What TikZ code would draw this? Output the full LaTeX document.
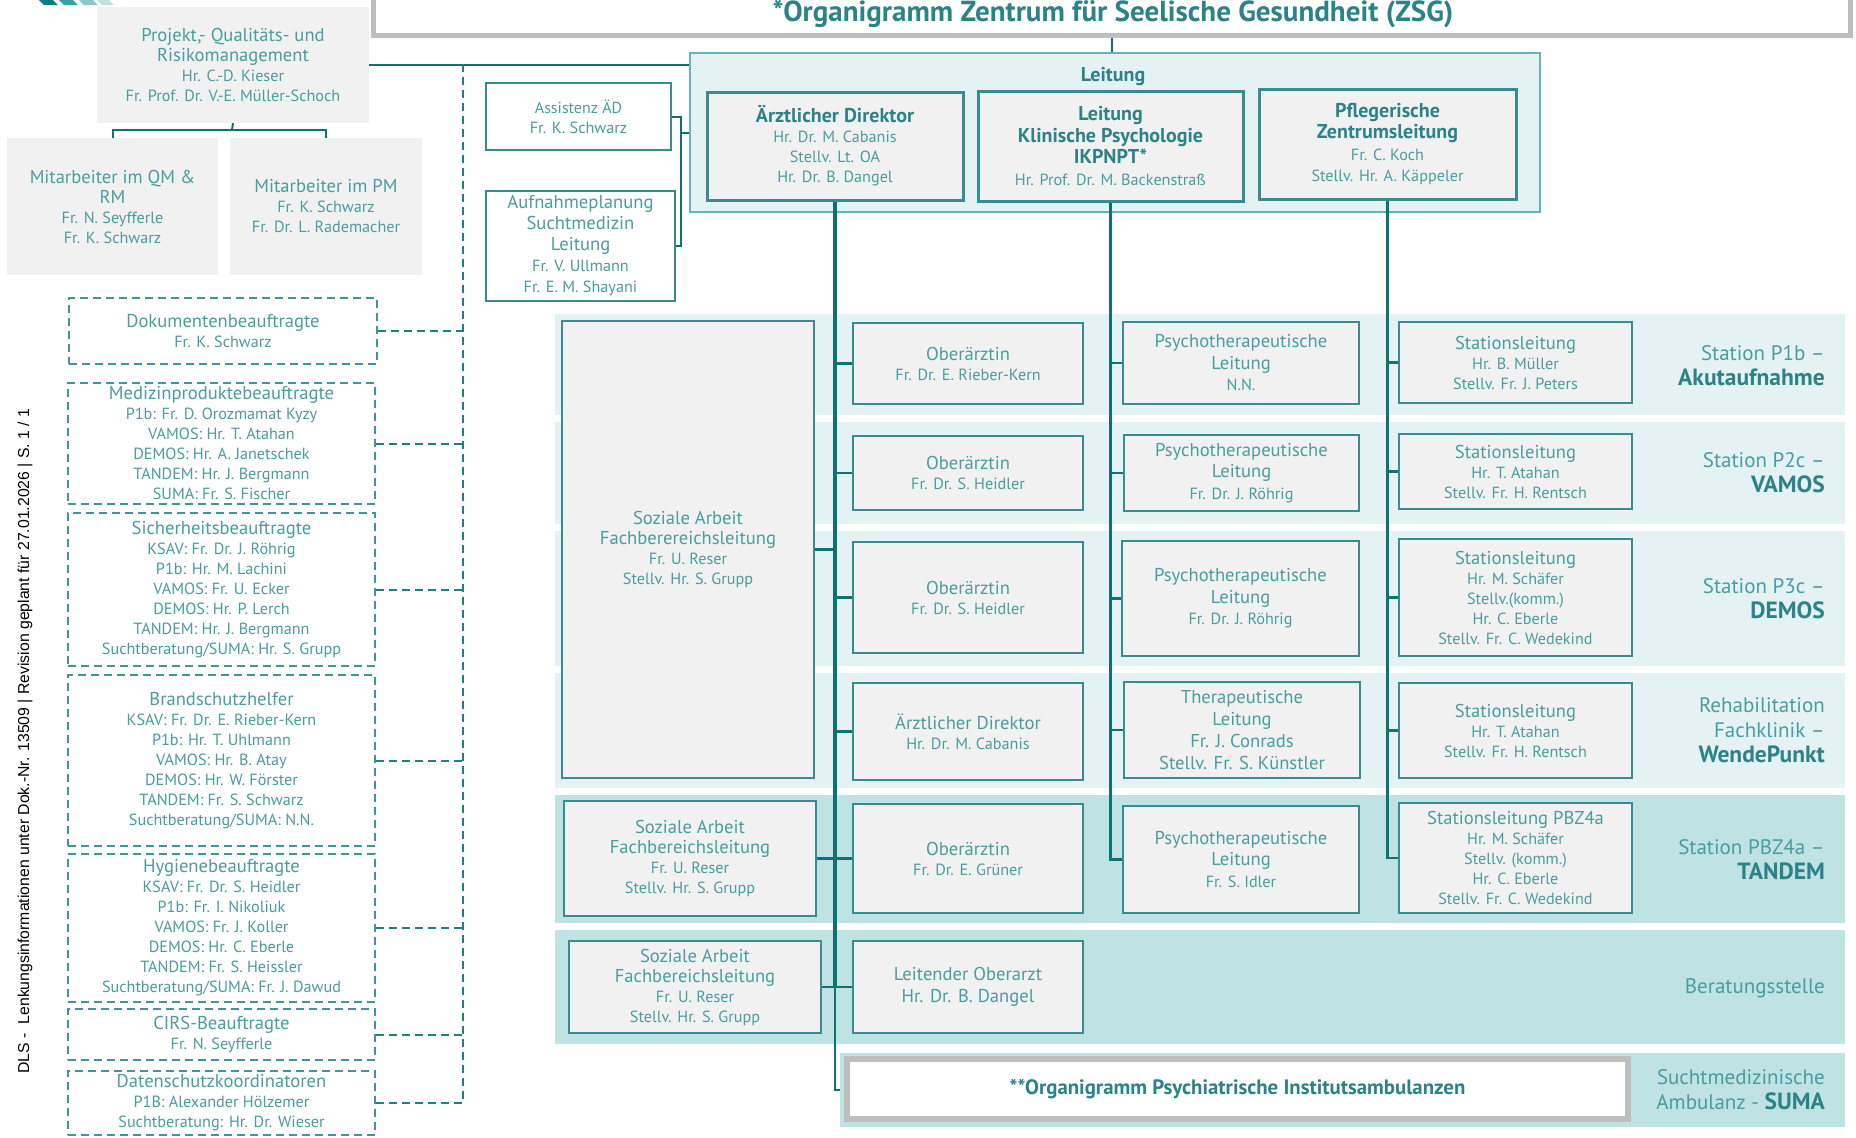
\documentclass[tikz,border=0pt]{standalone}
\usepackage{fontspec}
\setmainfont{PT Sans}
\newfontfamily\arialfont{Liberation Sans}
\definecolor{txt}{HTML}{4A9C9E}
\definecolor{headcol}{HTML}{2B8385}
\definecolor{lin}{HTML}{0E7272}
\definecolor{bline}{HTML}{3A8B8D}
\definecolor{bfill}{HTML}{F1F1F1}
\definecolor{bandL}{HTML}{E4F2F3}
\definecolor{bandD}{HTML}{BFE2E3}
\definecolor{leitfill}{HTML}{E4F2F3}
\definecolor{leitline}{HTML}{62B6B8}
\definecolor{grayb}{HTML}{BEBEBE}
\definecolor{dashbox}{HTML}{3F9597}
\definecolor{dashlin}{HTML}{1F7F81}
\definecolor{logoA}{HTML}{127B7E}
\definecolor{logoB}{HTML}{3AA0A2}
\definecolor{logoC}{HTML}{8CC6C8}
\definecolor{logoD}{HTML}{C3E0E1}
\newcommand\Tt[1]{{\fontsize{18.6}{20}\selectfont #1}}
\newcommand\Hb[1]{{\fontsize{20}{20}\selectfont\bfseries\color{headcol}#1}}
\newcommand\Lb[1]{{\fontsize{23.5}{25}\selectfont\bfseries\color{headcol}#1}}
\newcommand\Bx[7]{\node[#6,minimum width={(#4)-(#2)},minimum height={(#5)-(#3)}] (#1) at ({((#2)+(#4))/2},{((#3)+(#5))/2}) {#7};}
\tikzset{
  base/.style={inner sep=0pt,align=center,text=txt,font=\fontsize{16.2}{20}\selectfont},
  graybox/.style={base,fill=bfill},
  dbox/.style={base,draw=dashbox,line width=2pt,dash pattern=on 8pt off 5pt,fill=white},
  wbox/.style={base,draw=bline,line width=1.5pt,fill=white},
  sbox/.style={base,draw=bline,line width=2.6pt,fill=bfill},
  sboxw/.style={sbox,font=\fontsize{16.2}{21.5}\selectfont},
  lbox/.style={base,draw=bline,line width=3pt,fill=bfill,font=\fontsize{16.2}{21.5}\selectfont},
  bandl/.style={inner sep=0pt,fill=bandL},
  bandd/.style={inner sep=0pt,fill=bandD},
  conn/.style={draw=lin,line width=2.5pt},
  trunk/.style={draw=lin,line width=4.5pt},
  dconn/.style={draw=dashlin,line width=2pt,dash pattern=on 8pt off 5pt},
  slabel/.style={anchor=east,align=right,inner sep=0pt,text=txt,font=\fontsize{21}{25}\selectfont},
}
\begin{document}
\begin{tikzpicture}[x=1pt,y=-1pt]
\useasboundingbox (0,0) rectangle (1856,1138);
\clip (0,0) rectangle (1856,1138);
% logo fragment
\fill[logoA] (38,-1) -- (52,-1) -- (58,5) -- (44,5) -- cycle;
\fill[logoB] (58,-1) -- (72,-1) -- (78,5) -- (64,5) -- cycle;
\fill[logoC] (78,-1) -- (92,-1) -- (98,5) -- (84,5) -- cycle;
\fill[logoD] (96,-1) -- (108,-1) -- (114,5) -- (102,5) -- cycle;
% side text
\node[rotate=90,inner sep=0pt,text=black,font=\arialfont\fontsize{15.8}{17}\selectfont] (dls) at (25,741) {DLS -\ \ Lenkungsinformationen unter Dok.-Nr. 13509 | Revision geplant für 27.01.2026 | S. 1 / 1};
% title
\node[draw=grayb,line width=5pt,fill=white,minimum width=1477pt,minimum height=60pt,inner sep=0pt] (ttl) at (1111.5,5) {};
\node[inner sep=0pt,text=headcol,font=\fontsize{29}{30}\selectfont\bfseries] (ttltxt) at (1113,14) {*Organigramm Zentrum für Seelische Gesundheit (ZSG)};
% bands
\Bx{b1}{555}{314}{1845}{415}{bandl}{}
\Bx{b2}{555}{422}{1845}{524}{bandl}{}
\Bx{b3}{555}{531}{1845}{666}{bandl}{}
\Bx{b4}{555}{673}{1845}{788}{bandl}{}
\Bx{b5}{555}{795}{1845}{923}{bandd}{}
\Bx{b6}{555}{930}{1845}{1044}{bandd}{}
\Bx{suma}{840}{1053}{1845}{1127}{bandd}{}
% left column
\Bx{proj}{97}{7}{369}{123}{graybox}{\Tt{Projekt,- Qualitäts- und}\\\Tt{Risikomanagement}\\Hr. C.-D. Kieser\\Fr. Prof. Dr. V.-E. Müller-Schoch}
\Bx{mqm}{7}{138}{218}{275}{graybox}{\Tt{Mitarbeiter im QM \&}\\\Tt{RM}\\Fr. N. Seyfferle\\Fr. K. Schwarz}
\Bx{mpm}{230}{138}{422}{275}{graybox}{\Tt{Mitarbeiter im PM}\\Fr. K. Schwarz\\Fr. Dr. L. Rademacher}
\Bx{dok}{69}{298}{377}{364}{dbox}{\Tt{Dokumentenbeauftragte}\\Fr. K. Schwarz}
\Bx{med}{68}{383}{375}{504}{dbox}{\Tt{Medizinproduktebeauftragte}\\P1b: Fr. D. Orozmamat Kyzy\\VAMOS: Hr. T. Atahan\\DEMOS: Hr. A. Janetschek\\TANDEM: Hr. J. Bergmann\\SUMA: Fr. S. Fischer}
\Bx{sich}{68}{513}{375}{666}{dbox}{\Tt{Sicherheitsbeauftragte}\\KSAV: Fr. Dr. J. Röhrig\\P1b: Hr. M. Lachini\\VAMOS: Fr. U. Ecker\\DEMOS: Hr. P. Lerch\\TANDEM: Hr. J. Bergmann\\Suchtberatung/SUMA: Hr. S. Grupp}
\Bx{brand}{68}{675}{375}{846}{dbox}{\Tt{Brandschutzhelfer}\\KSAV: Fr. Dr. E. Rieber-Kern\\P1b: Hr. T. Uhlmann\\VAMOS: Hr. B. Atay\\DEMOS: Hr. W. Förster\\TANDEM: Fr. S. Schwarz\\Suchtberatung/SUMA: N.N.}
\Bx{hyg}{68}{854}{375}{1002}{dbox}{\Tt{Hygienebeauftragte}\\KSAV: Fr. Dr. S. Heidler\\P1b: Fr. I. Nikoliuk\\VAMOS: Fr. J. Koller\\DEMOS: Hr. C. Eberle\\TANDEM: Fr. S. Heissler\\Suchtberatung/SUMA: Fr. J. Dawud}
\Bx{cirs}{68}{1009}{375}{1060}{dbox}{\Tt{CIRS-Beauftragte}\\Fr. N. Seyfferle}
\Bx{dsk}{68}{1071}{375}{1135}{dbox}{\Tt{Datenschutzkoordinatoren}\\P1B: Alexander Hölzemer\\Suchtberatung: Hr. Dr. Wieser}
% assistants
\Bx{asst}{486}{83}{671}{150}{wbox}{\fontsize{16}{20}\selectfont Assistenz ÄD\\Fr. K. Schwarz}
\Bx{aufn}{486}{191}{675}{301}{wbox,font=\fontsize{16.2}{21}\selectfont}{\Tt{Aufnahmeplanung}\\\Tt{Suchtmedizin}\\\Tt{Leitung}\\Fr. V. Ullmann\\Fr. E. M. Shayani}
% Leitung
\Bx{leitung}{690}{53}{1540}{212}{base,draw=leitline,line width=2.5pt,fill=leitfill}{}
\node[inner sep=0pt,text=headcol,font=\fontsize{20}{20}\selectfont\bfseries] (leitlab) at (1113,77) {Leitung};
\Bx{ad}{707}{92}{963}{200}{lbox,font=\fontsize{16.2}{20}\selectfont}{\Hb{Ärztlicher Direktor}\\Hr. Dr. M. Cabanis\\Stellv. Lt. OA\\Hr. Dr. B. Dangel}
\Bx{kp}{978}{91}{1243}{201}{lbox}{\Hb{Leitung}\\\Hb{Klinische Psychologie}\\\Hb{IKPNPT*}\\Hr. Prof. Dr. M. Backenstraß}
\Bx{pf}{1259}{89}{1516}{199}{lbox}{\Hb{Pflegerische}\\\Hb{Zentrumsleitung}\\Fr. C. Koch\\Stellv. Hr. A. Käppeler}
% Soziale Arbeit
\Bx{soz}{562}{321}{814}{778}{sbox}{\Tt{Soziale Arbeit}\\\Tt{Fachberereichsleitung}\\Fr. U. Reser\\Stellv. Hr. S. Grupp}
\Bx{soz5}{564}{801}{816}{916}{sbox}{\Tt{Soziale Arbeit}\\\Tt{Fachbereichsleitung}\\Fr. U. Reser\\Stellv. Hr. S. Grupp}
\Bx{soz6}{569}{941}{821}{1033}{sbox}{\Tt{Soziale Arbeit}\\\Tt{Fachbereichsleitung}\\Fr. U. Reser\\Stellv. Hr. S. Grupp}
% Oberaerzte
\Bx{ob1}{853}{323}{1083}{404}{sbox}{\Tt{Oberärztin}\\Fr. Dr. E. Rieber-Kern}
\Bx{ob2}{853}{436}{1083}{510}{sbox}{\Tt{Oberärztin}\\Fr. Dr. S. Heidler}
\Bx{ob3}{853}{542}{1083}{653}{sbox}{\Tt{Oberärztin}\\Fr. Dr. S. Heidler}
\Bx{ob4}{853}{683}{1083}{780}{sbox}{\Tt{Ärztlicher Direktor}\\Hr. Dr. M. Cabanis}
\Bx{ob5}{853}{804}{1083}{913}{sbox}{\Tt{Oberärztin}\\Fr. Dr. E. Grüner}
\Bx{ob6}{853}{941}{1083}{1033}{sbox,font=\fontsize{18.6}{22}\selectfont}{Leitender Oberarzt\\Hr. Dr. B. Dangel}
% Psychotherapie
\Bx{ps1}{1123}{322}{1359}{404}{sboxw}{\Tt{Psychotherapeutische}\\\Tt{Leitung}\\N.N.}
\Bx{ps2}{1124}{435}{1359}{511}{sboxw}{\Tt{Psychotherapeutische}\\\Tt{Leitung}\\Fr. Dr. J. Röhrig}
\Bx{ps3}{1122}{541}{1359}{656}{sboxw}{\Tt{Psychotherapeutische}\\\Tt{Leitung}\\Fr. Dr. J. Röhrig}
\Bx{ps4}{1124}{682}{1360}{778}{sbox,font=\fontsize{18.6}{22}\selectfont}{Therapeutische\\Leitung\\Fr. J. Conrads\\Stellv. Fr. S. Künstler}
\Bx{ps5}{1123}{806}{1359}{913}{sboxw}{\Tt{Psychotherapeutische}\\\Tt{Leitung}\\Fr. S. Idler}
% Stationsleitung
\Bx{sl1}{1399}{322}{1632}{403}{sbox}{\Tt{Stationsleitung}\\Hr. B. Müller\\Stellv. Fr. J. Peters}
\Bx{sl2}{1399}{434}{1632}{509}{sbox}{\Tt{Stationsleitung}\\Hr. T. Atahan\\Stellv. Fr. H. Rentsch}
\Bx{sl3}{1399}{539}{1632}{656}{sbox}{\Tt{Stationsleitung}\\Hr. M. Schäfer\\Stellv.(komm.)\\Hr. C. Eberle\\Stellv. Fr. C. Wedekind}
\Bx{sl4}{1399}{683}{1632}{778}{sbox}{\Tt{Stationsleitung}\\Hr. T. Atahan\\Stellv. Fr. H. Rentsch}
\Bx{sl5}{1399}{803}{1632}{913}{sbox}{\Tt{Stationsleitung PBZ4a}\\Hr. M. Schäfer\\Stellv. (komm.)\\Hr. C. Eberle\\Stellv. Fr. C. Wedekind}
% station labels
\node[slabel] (lab1) at (1825,365.5) {Station P1b –\\\Lb{Akutaufnahme}};
\node[slabel] (lab2) at (1825,473) {Station P2c –\\\Lb{VAMOS}};
\node[slabel] (lab3) at (1825,598.5) {Station P3c –\\\Lb{DEMOS}};
\node[slabel] (lab4) at (1825,730) {Rehabilitation\\Fachklinik –\\\Lb{WendePunkt}};
\node[slabel] (lab5) at (1825,859.5) {Station PBZ4a –\\\Lb{TANDEM}};
\node[slabel] (lab6) at (1825,988) {Beratungsstelle};
\node[slabel] (lab7) at (1825,1090) {Suchtmedizinische\\Ambulanz - \Lb{SUMA}};
% PIA box
\Bx{pia}{847}{1059}{1628}{1119}{base,draw=grayb,line width=6pt,fill=white,text=headcol,font=\fontsize{20.8}{22}\selectfont\bfseries}{**Organigramm Psychiatrische Institutsambulanzen}
% connectors: top
\draw[conn,line width=2pt] (ttl.south) -- (ttl.south |- leitung.north);
\draw[conn,line width=2pt] (proj.east) -- (proj.east -| leitung.west);
\coordinate (pj) at (232,130);
\draw[conn,line width=2pt] (proj.south) -- (pj);
\draw[conn,line width=2pt] (mqm.north) -- (mqm.north |- pj) -- (mpm.north |- pj) -- (mpm.north);
\coordinate (br) at (681,133);
\draw[conn,line width=2pt] (asst.east) -- (asst.east -| br) -- (aufn.east -| br) -- (aufn.east);
\draw[conn,line width=2pt] (br) -- (br -| leitung.west);
% dashed staff lines
\coordinate (dtop) at (463,64);
\draw[dconn] (dtop) -- (dtop |- dsk.east) -- (dsk.east);
\foreach \n in {dok,med,sich,brand,hyg,cirs} \draw[dconn] (\n.east) -- (\n.east -| dtop);
% medical trunk
\draw[trunk] (ad.south) -- (ad.south |- ob6.west);
\draw[conn] (ad.south |- ob6.west) -- (ad.south |- suma.west) -- (suma.west);
\foreach \n in {ob1,ob2,ob3,ob4,ob5,ob6} \draw[conn] (\n.west) -- (\n.west -| ad.south);
\draw[conn] (soz.east) -- (soz.east -| ad.south);
\draw[conn] (soz5.east) -- (soz5.east -| ad.south);
\draw[conn] (soz6.east) -- (soz6.east -| ad.south);
% psychology trunk
\draw[conn] (kp.south) -- (kp.south |- ps5.west) -- (ps5.west);
\foreach \n in {ps1,ps2,ps3,ps4} \draw[conn] (\n.west) -- (\n.west -| kp.south);
% nursing trunk
\draw[conn] (pf.south) -- (pf.south |- sl5.west) -- (sl5.west);
\foreach \n in {sl1,sl2,sl3,sl4} \draw[conn] (\n.west) -- (\n.west -| pf.south);
\end{tikzpicture}
\end{document}
